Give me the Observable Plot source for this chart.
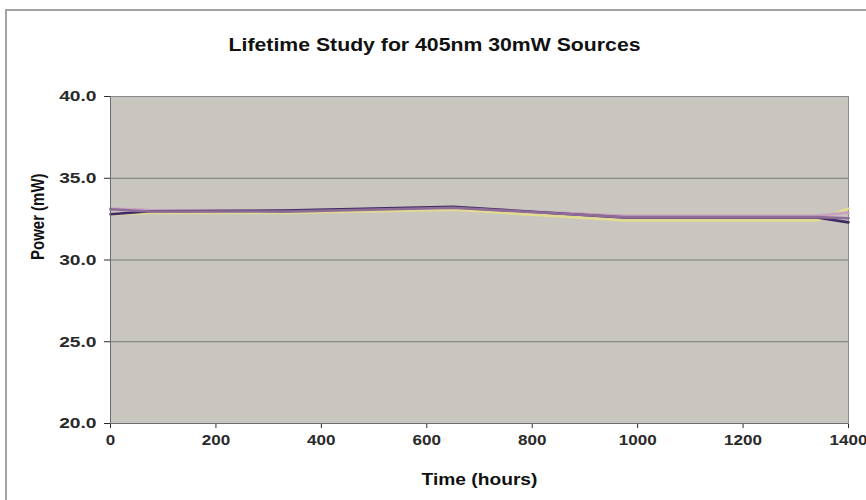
<!DOCTYPE html>
<html>
<head>
<meta charset="utf-8">
<script src="https://cdn.jsdelivr.net/npm/d3@7"></script>
<script src="https://cdn.jsdelivr.net/npm/@observablehq/plot@0.6"></script>
<style>
  html, body { margin: 0; padding: 0; background: #fff; }
  body { width: 866px; height: 500px; position: relative; overflow: hidden; font-family: "Liberation Sans", Arial, sans-serif; }
  #frame { position: absolute; left: 5px; top: 9px; width: 880px; height: 520px; border-left: 2px solid #a3a3a3; border-top: 2px solid #a3a3a3; }
  #title { position: absolute; left: 0; top: 33px; width: 870px; text-align: center; font-weight: bold; font-size: 18px; color: #111; line-height: 24px; }
  #title span { display: inline-block; transform: scaleX(1.18); }
  #chart { position: absolute; left: 0; top: 70px; }
</style>
</head>
<body>
<div id="frame"></div>
<div id="title"><span>Lifetime Study for 405nm 30mW Sources</span></div>
<div id="chart"></div>
<script>
const times = [0, 75, 330, 650, 975, 1340, 1400];
const seriesNames = ["Source 4", "Source 3", "Source 1", "Source 2"];
const seriesColors = ["#e3dc8f", "#c7a3bf", "#3f2a64", "#8d6c97"];
const source1 = [32.8, 32.98, 33.02, 33.25, 32.6, 32.6, 32.3];
const source2 = [33.1, 32.97, 32.96, 33.2, 32.62, 32.62, 32.55];
const source3 = [33.15, 33.05, 33.02, 33.2, 32.7, 32.7, 32.9];
const source4 = [32.8, 32.88, 32.88, 33.08, 32.42, 32.42, 33.15];
const xTicks = [0, 200, 400, 600, 800, 1000, 1200, 1400];
const yTicks = [20, 25, 30, 35, 40];
const gridValues = [25, 30, 35];
const xLabel = "Time (hours)";
const yLabel = "Power (mW)";

const seriesValues = {"Source 1": source1, "Source 2": source2, "Source 3": source3, "Source 4": source4};
const data = [];
for (const name of seriesNames) {
  seriesValues[name].forEach((p, i) => data.push({series: name, t: times[i], p}));
}

const plot = Plot.plot({
  width: 866,
  height: 430,
  marginLeft: 110,
  marginRight: 18,
  marginTop: 26,
  marginBottom: 77,
  style: {fontFamily: "'Liberation Sans', Arial, sans-serif", fontSize: "15px", color: "#2a2a2a", background: "transparent"},
  x: {domain: [0, 1400], ticks: xTicks, tickSize: 5, tickPadding: 7, tickFormat: d => String(d), label: null},
  y: {domain: [20, 40], ticks: yTicks, tickSize: 6, tickPadding: 8, tickFormat: d => d.toFixed(1), label: null},
  color: {domain: seriesNames, range: seriesColors},
  marks: [
    Plot.frame({fill: "#c9c6c0", stroke: "#8a8a8a"}),
    Plot.ruleY(gridValues, {stroke: "#7a7a7a", strokeWidth: 1}),
    Plot.line(data, {x: "t", y: "p", z: "series", stroke: "series", strokeWidth: 2.6}),
    Plot.ruleX([0], {stroke: "#6d6d6d"}),
    Plot.ruleY([20], {stroke: "#6d6d6d"}),
    Plot.text([xLabel], {frameAnchor: "bottom", dy: 61, fontWeight: "bold", fontSize: 16, fill: "#111"}),
    Plot.text([yLabel], {frameAnchor: "left", dx: -72, rotate: -90, fontWeight: "bold", fontSize: 15, fill: "#111"})
  ]
});

// stretch tick labels horizontally to match the reference's wide lettering
d3.select(plot).selectAll("g[aria-label^='y-axis'] text").each(function() {
  const t = this.getAttribute("transform") || "";
  this.setAttribute("transform", t + " scale(1.28,1)");
  this.style.fontWeight = "bold";
});
d3.select(plot).selectAll("g[aria-label^='x-axis'] text").each(function() {
  const t = this.getAttribute("transform") || "";
  this.setAttribute("transform", t + " scale(1.22,1)");
  this.style.fontWeight = "bold";
  this.style.fontSize = "14px";
});
d3.select(plot).selectAll("g[aria-label='text'] text").each(function(d, i) {
  const t = this.getAttribute("transform") || "";
  this.setAttribute("transform", t + (i === 0 ? " scale(1.2,1)" : " scale(1,1.2)"));
});
document.getElementById("chart").appendChild(plot);
</script>
</body>
</html>
